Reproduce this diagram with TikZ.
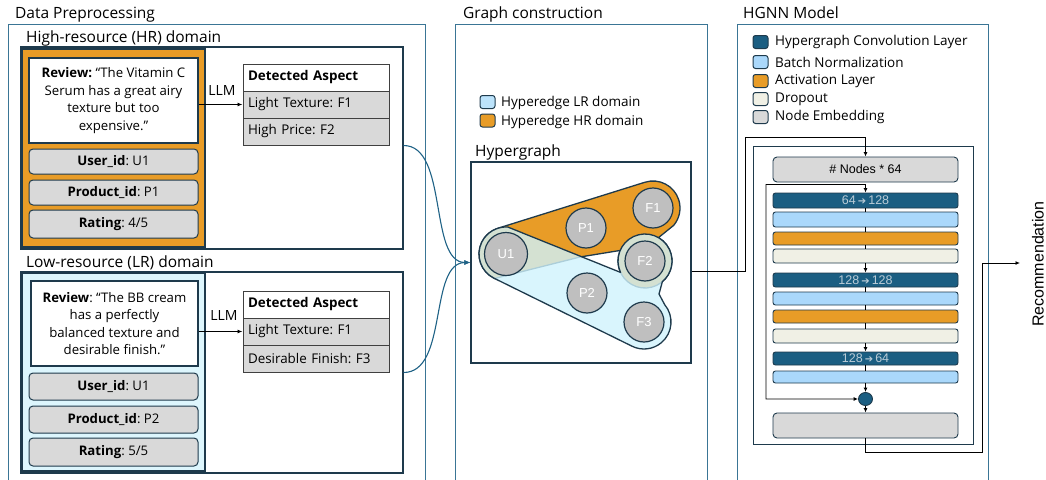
\documentclass[tikz,border=0pt]{standalone}
\usepackage{fontspec}
\setmainfont{Open Sans}
\newfontfamily\arialfont{Liberation Sans}
\newfontfamily\symbolfont{DejaVu Sans}
\usetikzlibrary{arrows.meta,calc,shapes.geometric}
\frenchspacing

\definecolor{panelline}{HTML}{3A7595}
\definecolor{darkline}{HTML}{1E3A4C}
\definecolor{tableline}{HTML}{404040}
\definecolor{hrorange}{HTML}{E89C27}
\definecolor{lrblue}{HTML}{DDF6FD}
\definecolor{boxgray}{HTML}{D9D9D9}
\definecolor{nodegray}{HTML}{BFBFBF}
\definecolor{convteal}{HTML}{1B5E82}
\definecolor{bnblue}{HTML}{AAD8FB}
\definecolor{dropcream}{HTML}{F0F0E5}
\definecolor{hyperblue}{RGB}{208,243,253}
\definecolor{legblue}{HTML}{BCE3FB}
\definecolor{curveteal}{HTML}{1F6286}
\definecolor{convtext}{HTML}{B9CBD6}

\newcommand{\convlab}[2]{{\arialfont\fontsize{12.5}{12.5}\selectfont\color{convtext}#1\,{\symbolfont\fontsize{10}{10}\selectfont ➔}\,#2}}

\begin{document}
\begin{tikzpicture}[x=1pt,y=-1pt,
  panel/.style={draw=panelline, line width=0.9},
  title/.style={font=\fontsize{15.5}{18}\selectfont, inner sep=0, anchor=base west},
  domainbox/.style={draw=darkline, line width=1.1, inner sep=0},
  sidepanel/.style={draw=darkline, line width=1.1, inner sep=0},
  reviewbox/.style={draw=darkline, fill=white, line width=1.1, align=center, inner sep=0,
    font=\fontsize{13.2}{17.5}\selectfont},
  infobox/.style={draw=darkline, fill=boxgray, rounded corners=4, line width=1,
    minimum width=169, inner sep=0, font=\fontsize{13.2}{15}\selectfont},
  tablehead/.style={draw=tableline, fill=white, line width=1, minimum height=27,
    text width=136, inner xsep=5, inner ysep=0, align=left, font=\bfseries\fontsize{13.4}{15}\selectfont},
  tablerow/.style={tablehead, fill=boxgray, font=\fontsize{13.4}{15}\selectfont},
  llm/.style={font=\fontsize{14}{15}\selectfont, inner sep=0},
  flowarrow/.style={draw=black, line width=0.9, -{Latex[length=5pt,width=4pt]}},
  curve/.style={draw=curveteal, line width=1.1, -{Latex[length=6pt,width=5pt]}},
  legsq/.style={draw=darkline, line width=1, rounded corners=2.5, minimum width=15, minimum height=13, inner sep=0},
  legtext/.style={font=\fontsize{13.5}{15}\selectfont, inner sep=0, anchor=west},
  hnode/.style={circle, draw=darkline, fill=nodegray, line width=1.2, minimum size=40, inner sep=0,
    text=white, font=\arialfont\fontsize{13}{13}\selectfont},
  hedge/.style={draw=darkline, line width=1.3, line join=round},
  layer/.style={draw=darkline, rounded corners=2.5, minimum width=185, line width=0.9, inner sep=0},
  nodebox/.style={draw=darkline, fill=boxgray, rounded corners=4, minimum width=185, minimum height=25,
    line width=0.9, inner sep=0, font=\arialfont\fontsize{12.5}{12.5}\selectfont},
  flow/.style={draw=black, line width=0.9},
  flowtip/.style={flow, -{Latex[length=4.5pt,width=4pt]}}
]
\useasboundingbox (0,0) rectangle (1046,479);

% ---------------- Data preprocessing ----------------
\draw[panel] (8,24) rectangle (425,520);
\node[title] (dptitle) at (15,18) {Data Preprocessing};

% high-resource domain
\node[title] (hrtitle) at (26,42) {High-resource (HR) domain};
\node[domainbox, minimum width=382, minimum height=202] (hrbox) at (212,148) {};
\node[sidepanel, fill=hrorange, minimum width=182.5, minimum height=198] (hrpanel) at (113.75,148) {};
\node[reviewbox, minimum width=169, minimum height=85] (hrrev) at (113.5,100.5)
  {\textbf{Review:} “The Vitamin C\\Serum has a great airy\\texture but too\\expensive.”};
\node[infobox, minimum height=25] (hruser) at (113.5,161.5) {\textbf{User\_id}: U1};
\node[infobox, minimum height=25] (hrprod) at (113.5,192.5) {\textbf{Product\_id}: P1};
\node[infobox, minimum height=28] (hrrate) at (113.5,224) {\textbf{Rating}: 4/5};
\node[tablehead] (hrhead) at (316,77.5) {Detected Aspect};
\node[tablerow] (hrrow1) at (316,104.5) {Light Texture: F1};
\node[tablerow] (hrrow2) at (316,131.5) {High Price: F2};
\node[llm] (hrllm) at (222,91) {LLM};
\draw[flowarrow] (hrrev.east |- hrrow1.west) -- (hrrow1.west);

% low-resource domain
\node[title] (lrtitle) at (26,267) {Low-resource (LR) domain};
\node[domainbox, minimum width=382, minimum height=201] (lrbox) at (212,372.5) {};
\node[sidepanel, fill=lrblue, minimum width=182.5, minimum height=197.5] (lrpanel) at (113.75,372.25) {};
\node[reviewbox, minimum width=167, minimum height=85] (lrrev) at (114.5,323.5)
  {\textbf{Review}: “The BB cream\\has a perfectly\\balanced texture and\\desirable finish.”};
\node[infobox, minimum height=27] (lruser) at (113.5,386.5) {\textbf{User\_id}: U1};
\node[infobox, minimum height=27] (lrprod) at (113.5,419.5) {\textbf{Product\_id}: P2};
\node[infobox, minimum height=28] (lrrate) at (113.5,452) {\textbf{Rating}: 5/5};
\node[tablehead] (lrhead) at (316,304.5) {Detected Aspect};
\node[tablerow] (lrrow1) at (316,331.5) {Light Texture: F1};
\node[tablerow] (lrrow2) at (316,358.5) {Desirable Finish: F3};
\node[llm] (lrllm) at (224,315) {LLM};
\draw[flowarrow] (lrrev.east |- lrrow1.west) -- (lrrow1.west);

% ---------------- Graph construction ----------------
\draw[panel] (455,24) rectangle (707,520);
\node[title] (gctitle) at (463,18) {Graph construction};
\node[legsq, fill=legblue] (leglr) at (487.5,102) {};
\node[legtext] (leglrtext) at (501,103) {Hyperedge LR domain};
\node[legsq, fill=hrorange] (leghr) at (487.5,120.5) {};
\node[legtext] (leghrtext) at (501,121.5) {Hyperedge HR domain};

\node[title] (hgtitle) at (475,156) {Hypergraph};
\node[draw=darkline, line width=1.1, minimum width=220, minimum height=201, inner sep=0] (hgbox) at (581,262.5) {};

\coordinate (cU1) at (506,254);
\coordinate (cP1) at (586,228);
\coordinate (cF1) at (653,208);
\coordinate (cF2) at (645,261);
\coordinate (cP2) at (587,293);
\coordinate (cF3) at (644,322);

% HR hyperedge
\path[hedge, fill=hrorange]
  ($(cU1)+(252.6:27)$) -- ($(cF1)+(252.6:27)$) arc[start angle=252.6, end angle=400, radius=27]
  -- ($(cF2)+(300:27)$) arc[start angle=300, end angle=563, radius=27]
  -- (580,257) -- ($(cU1)+(115:27)$) arc[start angle=115, end angle=252.6, radius=27] -- cycle;
% LR hyperedge, laid semi-transparently over the HR one
\path[hedge, fill=hyperblue, fill opacity=0.8]
  ($(cU1)+(274:27)$) -- ($(cF2)+(155:27)$) arc[start angle=155, end angle=410, radius=27]
  -- (659,294) -- ($(cF3)+(-40:27)$) arc[start angle=-40, end angle=116.2, radius=27]
  -- ($(cU1)+(116.2:27)$) arc[start angle=116.2, end angle=274, radius=27] -- cycle;

\node[hnode, minimum size=43] (U1) at (cU1) {U1};
\node[hnode] (P1) at (cP1) {P1};
\node[hnode] (F1) at (cF1) {F1};
\node[hnode] (F2) at (cF2) {F2};
\node[hnode] (P2) at (cP2) {P2};
\node[hnode] (F3) at (cF3) {F3};

\draw[curve] (hrbox.east |- hrrow2.south) .. controls +(45,0) and +(-42,0) .. (hgbox.west);
\draw[curve] (lrbox.east |- lrrow2.south) .. controls +(45,0) and +(-42,0) .. (hgbox.west);

% ---------------- HGNN model ----------------
\draw[panel] (737,24) rectangle (988,520);
\node[title] (hgnntitle) at (743,18) {HGNN Model};
\node[legsq, fill=convteal] (legconv) at (760.5,42) {};
\node[legtext] (legconvtext) at (775,42) {Hypergraph Convolution Layer};
\node[legsq, fill=bnblue] (legbn) at (760.5,62) {};
\node[legtext] (legbntext) at (775,62) {Batch Normalization};
\node[legsq, fill=hrorange] (legact) at (760.5,81) {};
\node[legtext] (legacttext) at (775,81) {Activation Layer};
\node[legsq, fill=dropcream] (legdrop) at (760.5,99) {};
\node[legtext] (legdroptext) at (775,99) {Dropout};
\node[legsq, fill=boxgray] (legemb) at (760.5,117) {};
\node[legtext] (legembtext) at (775,117) {Node Embedding};

\node[draw=darkline, line width=0.9, minimum width=220, minimum height=298, inner sep=0] (hgnnbox) at (863,295) {};

\node[nodebox] (nodesbox) at (865.5,169.5) {\# Nodes * 64};
\node[layer, fill=convteal, minimum height=15] (conv1) at (865.5,200.5) {\convlab{64}{128}};
\node[layer, fill=bnblue, minimum height=15] (bn1) at (865.5,219.5) {};
\node[layer, fill=hrorange, minimum height=13] (act1) at (865.5,238.5) {};
\node[layer, fill=dropcream, minimum height=14] (drop1) at (865.5,256) {};
\node[layer, fill=convteal, minimum height=14] (conv2) at (865.5,280) {\convlab{128}{128}};
\node[layer, fill=bnblue, minimum height=13] (bn2) at (865.5,298.5) {};
\node[layer, fill=hrorange, minimum height=13] (act2) at (865.5,316.5) {};
\node[layer, fill=dropcream, minimum height=14] (drop2) at (865.5,336) {};
\node[layer, fill=convteal, minimum height=13] (conv3) at (865.5,358.5) {\convlab{128}{64}};
\node[layer, fill=bnblue, minimum height=12] (bn3) at (865.5,377) {};
\node[ellipse, draw=darkline, fill=convteal, line width=0.9, minimum width=14, minimum height=13, inner sep=0] (sum) at (865.5,399) {};
\node[nodebox] (outbox) at (865.5,425.5) {};

\draw[flow] (conv1) -- (bn1);
\draw[flow] (bn1) -- (act1);
\draw[flow] (act1) -- (drop1);
\draw[flowtip] (drop1) -- (conv2);
\draw[flow] (conv2) -- (bn2);
\draw[flow] (bn2) -- (act2);
\draw[flow] (act2) -- (drop2);
\draw[flowtip] (drop2) -- (conv3);
\draw[flow] (conv3) -- (bn3);
\draw[flowtip] (bn3) -- (sum);
\draw[flowtip] (sum) -- (outbox);

\coordinate (split) at ($(nodesbox.south)+(0,2)$);
\coordinate (skipcorner) at (766,184.5);
\draw[flowtip] (split) -- (conv1.north);
\draw[flowtip] (split) -- (skipcorner) |- (sum.west);

\coordinate (hgout) at ($(hgbox.east)+(0,8.5)$);
\coordinate (hgnnin) at (745,137);
\draw[flowtip] (hgout) -| (hgnnin) -| (nodesbox.north);

\coordinate (outbend) at (865.5,452);
\coordinate (recbend) at (982,263);
\coordinate (recend) at (1020,263);
\draw[flowtip] (outbox.south) -- (outbend) -| (recbend) -- (recend);
\node[rotate=90, inner sep=0, font=\arialfont\fontsize{16}{16}\selectfont] (rec) at (1038,264) {Recommendation};

\end{tikzpicture}
\end{document}
